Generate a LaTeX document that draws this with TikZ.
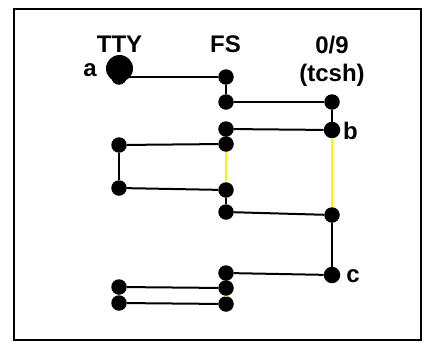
\documentclass[tikz,border=0pt]{standalone}
\usepackage{fontspec}
\setmainfont{Liberation Sans}
\begin{document}
\begin{tikzpicture}[x=1pt,y=-1pt,
  dot/.style={circle,fill=black,inner sep=0pt,minimum size=15.5pt},
  bigdot/.style={circle,fill=black,inner sep=0pt,minimum size=27pt},
  lbl/.style={inner sep=0pt,font=\fontsize{24}{26}\selectfont\bfseries},
  wire/.style={line width=2pt,black},
  yel/.style={line width=2pt,yellow}]
\useasboundingbox (0,0) rectangle (426,343);
\draw[line width=2pt] (13.5,9) rectangle (421,340);

% column headings
\node[lbl] (hTTY) at (119.5,44) {TTY};
\node[lbl] (hFS)  at (225.5,44) {FS};
\node[lbl] (h09)  at (332,45) {0/9};
\node[lbl] (hsh)  at (332,75) {(tcsh)};

% TTY column
\node[dot] (a) at (119,77) {};
\node[bigdot] (abig) at (119.5,68.5) {};
\node[dot] (L1) at (119,145) {};
\node[dot] (L2) at (119,188) {};
\node[dot] (L3) at (119,287) {};
\node[dot] (L4) at (119,303) {};

% FS column
\node[dot] (F1) at (226,77) {};
\node[dot] (F2) at (226,102) {};
\node[dot] (F3) at (226,129) {};
\node[dot] (F4) at (226,144) {};
\node[dot] (F5) at (226,190) {};
\node[dot] (F6) at (226,212) {};
\node[dot] (F7) at (226,273) {};
\node[dot] (F8) at (226,288) {};
\node[dot] (F9) at (226,304) {};

% tcsh column
\node[dot] (R1) at (332,102) {};
\node[dot,minimum size=16.5pt] (b) at (332,130) {};
\node[dot] (R3) at (332,215) {};
\node[dot,minimum size=16.5pt] (c) at (332,275) {};

% point labels
\node[lbl] (la) at (90,70) {a};
\node[lbl] (lb) at (350.5,131) {b};
\node[lbl] (lc) at (353,276) {c};

% black connectors
\draw[wire] (a) -- (F1);
\draw[wire] (F1) -- (F2);
\draw[wire] (F2) -- (R1);
\draw[wire] (R1) -- (b);
\draw[wire] (b) -- (F3);
\draw[wire] (F4) -- (L1);
\draw[wire] (L1) -- (L2);
\draw[wire] (L2) -- (F5);
\draw[wire] (F5) -- (F6);
\draw[wire] (F6) -- (R3);
\draw[wire] (R3) -- (c);
\draw[wire] (c) -- (F7);
\draw[wire] (F8) -- (L3);
\draw[wire] (L4) -- (F9);

% yellow connectors
\draw[yel] (F4) -- (F5);
\draw[yel] (b) -- (R3);
\draw[yel] (F8) -- (F9);
\end{tikzpicture}
\end{document}
